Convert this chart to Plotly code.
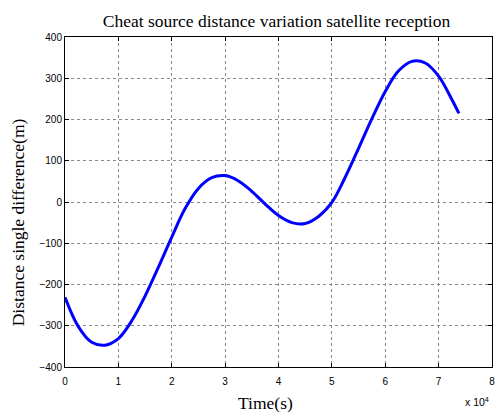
import plotly.graph_objects as go

# Time (s) and distance single difference (m)
time_s = [0, 2500, 5000, 7500, 10000, 12500, 15000, 17500, 20000, 22500,
          25000, 27500, 30000, 32500, 35000, 37500, 40000, 42500, 45000,
          47500, 50000, 52500, 55000, 57500, 60000, 62500, 65000, 67500,
          70000, 72500, 73800]
dist_m = [-231, -302, -340, -347, -331, -288, -228, -158, -85, -16,
          33, 59, 64, 51, 26, -5, -33, -50, -52,
          -35, -1, 60, 130, 202, 268, 318, 341, 337,
          305, 248, 215]

x_tickvals = [0, 10000, 20000, 30000, 40000, 50000, 60000, 70000, 80000]
x_ticktext = ["0", "1", "2", "3", "4", "5", "6", "7", "8"]
y_tickvals = [-400, -300, -200, -100, 0, 100, 200, 300, 400]

serif = "Liberation Serif, Times New Roman, serif"
sans = "Liberation Sans, Arial, sans-serif"

fig = go.Figure()
fig.add_trace(go.Scatter(
    x=time_s, y=dist_m, mode="lines",
    line=dict(color="#0000FF", width=3, shape="spline", smoothing=1.0),
    showlegend=False,
))

axis_common = dict(
    showline=True, linecolor="black", linewidth=1, mirror="ticks",
    ticks="inside", ticklen=4, tickcolor="black", tickwidth=1,
    showgrid=True, gridcolor="#888888", gridwidth=1, griddash="dot",
    zeroline=False,
    tickfont=dict(family=sans, size=10, color="black"),
    automargin=False,
)

fig.update_layout(
    width=497, height=412,
    margin=dict(l=65, r=5, t=37, b=45),
    paper_bgcolor="white", plot_bgcolor="white",
    title=dict(
        text="Cheat source distance variation satellite reception",
        font=dict(family=serif, size=17.5, color="black"),
        x=0.4953, xref="paper", xanchor="center",
        y=1 - 20.5 / 412, yref="container", yanchor="middle",
    ),
    xaxis=dict(
        range=[0, 80000], tickvals=x_tickvals, ticktext=x_ticktext,
        ticklabelstandoff=5,
        **axis_common,
    ),
    yaxis=dict(
        range=[-400, 400], tickvals=y_tickvals,
        **axis_common,
    ),
    annotations=[
        dict(text="Time(s)", xref="paper", yref="paper",
             x=0.4696, y=-0.109, xanchor="center", yanchor="middle",
             showarrow=False, font=dict(family=serif, size=17.5, color="black")),
        dict(text="Distance single difference(m)", xref="paper", yref="paper",
             x=-0.1094, y=0.4394, xanchor="center", yanchor="middle",
             textangle=-90, showarrow=False,
             font=dict(family=serif, size=17.5, color="black")),
        dict(text="x 10<sup>4</sup>", xref="paper", yref="paper",
             x=0.9977, y=-0.104, xanchor="right", yanchor="middle",
             showarrow=False, font=dict(family=sans, size=10.5, color="black")),
    ],
)

fig.write_html("out.html")
